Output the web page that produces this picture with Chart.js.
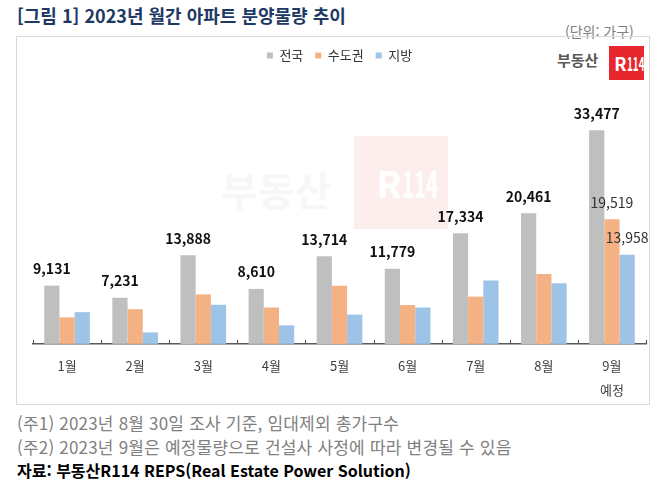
<!DOCTYPE html>
<html lang="ko">
<head>
<meta charset="utf-8">
<script src="https://cdn.jsdelivr.net/npm/chart.js@4"></script>
<style>
  body { margin: 0; background: #fff; font-family: "Noto Sans CJK KR", "Noto Sans", sans-serif; }
  .page { position: relative; width: 658px; height: 487px; overflow: hidden; }
  .title { position: absolute; left: 17px; top: 2px; font-size: 18px; font-weight: bold; color: #203864; white-space: nowrap; }
  .unit { position: absolute; left: 565px; top: 21px; font-size: 14px; color: #808080; white-space: nowrap; }
  .box { position: absolute; left: 16px; top: 36px; width: 632px; height: 367px; border: 1.5px solid #d9d9d9; }
  .wm-text { position: absolute; left: 204px; top: 123px; font-size: 40px; font-weight: bold; color: #f7f7f7; white-space: nowrap; }
  .wm-box { position: absolute; left: 337px; top: 99px; width: 94px; height: 93px; background: #fdeeee; color: #fff; font-weight: bold; text-align: center; line-height: 93px; white-space: nowrap; }
  .logo-text { position: absolute; left: 540px; top: 12px; font-size: 15px; font-weight: bold; color: #595959; }
  .logo-box { position: absolute; left: 592px; top: 9px; width: 35px; height: 34px; background: #e8262d; color: #fff; font-weight: bold; text-align: center; line-height: 34px; white-space: nowrap; }
  .narrow { display: inline-block; transform: scaleX(0.55); transform-origin: left center; }
  canvas { position: absolute; left: 0; top: 0; }
  .note { position: absolute; left: 17px; font-size: 17px; letter-spacing: 0.2px; color: #808080; white-space: nowrap; }
  .src { color: #000; font-weight: bold; font-size: 16px; letter-spacing: 0; }
</style>
</head>
<body>
<div class="page">
  <div class="title">[그림 1] 2023년 월간 아파트 분양물량 추이</div>
  <div class="unit">(단위: 가구)</div>
  <div class="box">
    <div class="wm-text">부동산</div>
    <div class="wm-box"><span style="font-size:37px">R</span><span class="narrow" style="font-size:37px;width:24px">114</span></div>
    <div class="logo-text">부동산</div>
    <div class="logo-box"><span style="font-size:18px">R</span><span class="narrow" style="font-size:18px;width:12px">114</span></div>
    <canvas id="chart" width="632" height="367"></canvas>
  </div>
  <div class="note" style="top:410px">(주1) 2023년 8월 30일 조사 기준, 임대제외 총가구수</div>
  <div class="note" style="top:434px">(주2) 2023년 9월은 예정물량으로 건설사 사정에 따라 변경될 수 있음</div>
  <div class="note src" style="top:458px">자료: 부동산R114 REPS(Real Estate Power Solution)</div>
</div>
<script>
const months = ['1월', '2월', '3월', '4월', '5월', '6월', '7월', '8월', ['9월', '예정']];
const seriesNames = ['전국', '수도권', '지방'];
const national = [9131, 7231, 13888, 8610, 13714, 11779, 17334, 20461, 33477];
const capital = [4160, 5440, 7760, 5700, 9120, 6080, 7400, 10960, 19519];
const region = [4971, 1791, 6128, 2910, 4594, 5699, 9934, 9501, 13958];
const colors = ['#bfbfbf', '#f4b183', '#9dc3e6'];
// which bars get a value label
const labelShown = [[0, 1, 2, 3, 4, 5, 6, 7, 8], [8], [8]];

const valueLabels = {
  id: 'valueLabels',
  afterDatasetsDraw(chart) {
    const ctx = chart.ctx;
    ctx.save();
    ctx.textAlign = 'center';
    ctx.textBaseline = 'middle';
    chart.data.datasets.forEach((ds, di) => {
      const meta = chart.getDatasetMeta(di);
      labelShown[di].forEach(i => {
        const bar = meta.data[i];
        ctx.font = (di === 0 ? 'bold ' : '') + '14px "Noto Sans CJK KR"';
        ctx.fillStyle = di === 0 ? '#111' : '#333';
        ctx.fillText(ds.data[i].toLocaleString('en-US'), bar.x, bar.y - 17);
      });
    });
    ctx.restore();
  }
};

const upTicks = {
  id: 'upTicks',
  afterDatasetsDraw(chart) {
    const x = chart.scales.x;
    const half = (x.getPixelForValue(1) - x.getPixelForValue(0)) / 2;
    const y = chart.chartArea.bottom;
    const ctx = chart.ctx;
    ctx.save();
    ctx.strokeStyle = '#595959';
    ctx.lineWidth = 1.2;
    for (let i = 0; i <= months.length; i++) {
      const px = Math.round(x.getPixelForValue(i) - half) + 0.5;
      ctx.beginPath();
      ctx.moveTo(px, y);
      ctx.lineTo(px, y - 4);
      ctx.stroke();
    }
    ctx.restore();
  }
};

new Chart(document.getElementById('chart'), {
  type: 'bar',
  data: {
    labels: months,
    datasets: [national, capital, region].map((d, i) => ({
      label: seriesNames[i],
      data: d,
      backgroundColor: colors[i],
      categoryPercentage: 0.67,
      barPercentage: 1.0
    }))
  },
  options: {
    responsive: false,
    animation: false,
    layout: { padding: { left: 16, right: 3, top: 0, bottom: -8 } },
    plugins: {
      legend: {
        labels: {
          boxWidth: 6, boxHeight: 6, padding: 12,
          color: '#333',
          font: { family: 'Noto Sans CJK KR', size: 13 }
        }
      },
      tooltip: { enabled: false }
    },
    scales: {
      x: {
        grid: { display: false, drawTicks: false },
        border: { display: true, color: '#595959', width: 1.5 },
        ticks: {
          padding: 10, color: '#404040',
          font: { family: 'Noto Sans CJK KR', size: 13, lineHeight: 1.85 }
        }
      },
      y: { display: false, min: 0, max: 42600 }
    }
  },
  plugins: [valueLabels, upTicks]
});
</script>
</body>
</html>
